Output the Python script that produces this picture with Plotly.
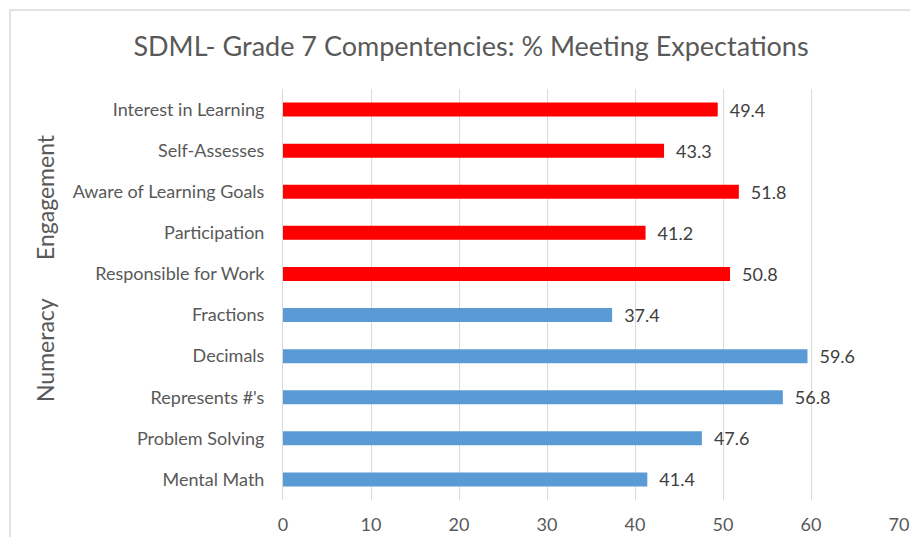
import plotly.graph_objects as go

categories = ["Interest in Learning", "Self-Assesses", "Aware of Learning Goals", "Participation",
              "Responsible for Work", "Fractions", "Decimals", "Represents #'s",
              "Problem Solving", "Mental Math"]
values = [49.4, 43.3, 51.8, 41.2, 50.8, 37.4, 59.6, 56.8, 47.6, 41.4]
groups = ["Engagement"] * 5 + ["Numeracy"] * 5
group_colors = {"Engagement": "#FF0000", "Numeracy": "#5B9BD5"}
x_ticks = [0, 10, 20, 30, 40, 50, 60, 70]
title = "SDML- Grade 7 Compentencies: % Meeting Expectations"

OFF = 8  # page body margin
W, H = 918 - OFF, 537 - OFF
L, R, T, B = 283 - OFF, 19, 89 - OFF, 37
pw, ph = W - L - R, H - T - B

def px_x(p):
    return (p - OFF - L) / pw

def px_y(p):
    return (H - B - (p - OFF)) / ph

fig = go.Figure()
fig.add_trace(go.Bar(
    y=categories, x=values, orientation="h",
    marker=dict(color=[group_colors[g] for g in groups], line=dict(width=0)),
    width=0.34,
    text=["\u2002" + f"{v:.1f}" for v in values], textposition="outside", constraintext="none",
    textfont=dict(family="Lato", size=18, color="#404040"),
    cliponaxis=False, hoverinfo="skip",
))

fig.update_layout(
    width=W, height=H,
    margin=dict(l=L, r=R, t=T, b=B, autoexpand=False),
    paper_bgcolor="white", plot_bgcolor="white",
    showlegend=False,
    font=dict(family="Lato", color="#595959"),
    title=dict(text=title, x=((130 + 812) / 2 - OFF) / W, xanchor="center", y=1 - (47 - OFF) / H,
               yanchor="middle", font=dict(family="Lato", size=27, color="#595959")),
    xaxis=dict(range=[0, 70], tickvals=x_ticks, showgrid=True, gridcolor="#D9D9D9", gridwidth=1,
               zeroline=False, showline=False, ticks="outside", ticklen=8, tickcolor="rgba(0,0,0,0)",
               automargin=False,
               tickfont=dict(family="Lato", size=18, color="#595959")),
    yaxis=dict(categoryorder="array", categoryarray=categories[::-1], showgrid=False,
               showline=True, linecolor="#D9D9D9", linewidth=1, ticks="", ticklabelstandoff=14,
               automargin=False,
               tickfont=dict(family="Lato", size=18, color="#595959")),
    bargap=0.66,
)

fig.add_annotation(text="Engagement", xref="paper", yref="paper", x=px_x(45), y=px_y(197),
                   xanchor="center", yanchor="middle",
                   textangle=-90, showarrow=False, font=dict(family="Lato", size=23, color="#595959"))
fig.add_annotation(text="Numeracy", xref="paper", yref="paper", x=px_x(45), y=px_y(350),
                   xanchor="center", yanchor="middle",
                   textangle=-90, showarrow=False, font=dict(family="Lato", size=23, color="#595959"))

fig.add_shape(type="rect", xref="paper", yref="paper", x0=px_x(10), x1=px_x(940), y0=px_y(560), y1=px_y(10),
              line=dict(color="#D9D9D9", width=1.5), fillcolor="rgba(0,0,0,0)", layer="below")

fig.write_html("out.html")
